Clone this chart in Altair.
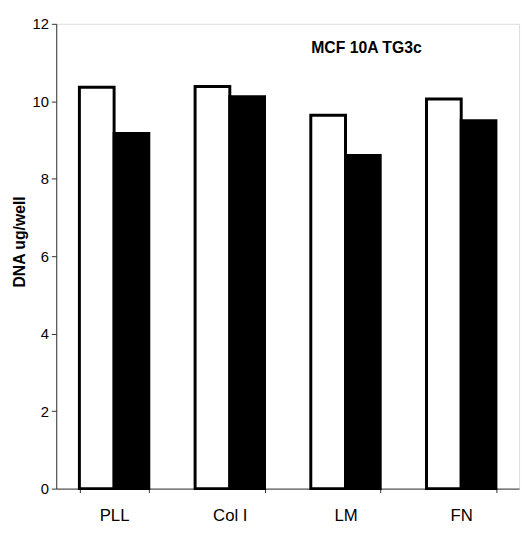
import altair as alt
import pandas as pd

categories = ["PLL", "Col I", "LM", "FN"]
series_names = ["open", "filled"]
open_values = [10.36, 10.38, 9.64, 10.06]
filled_values = [9.17, 10.12, 8.60, 9.50]

rows = []
for c, o, f in zip(categories, open_values, filled_values):
    rows.append({"cat": c, "series": "open", "value": o})
    rows.append({"cat": c, "series": "filled", "value": f})
df = pd.DataFrame(rows)

font = "Liberation Sans"

chart = (
    alt.Chart(df, title=alt.TitleParams(
        "MCF 10A TG3c", font=font, fontSize=16, fontWeight="bold",
        anchor="middle", frame="group", dx=80, dy=44, color="black"))
    .mark_bar(stroke="black", strokeWidth=3)
    .encode(
        x=alt.X("cat:N", sort=categories, title=None,
                scale=alt.Scale(paddingInner=0.4, paddingOuter=0.2),
                axis=alt.Axis(labelAngle=0, tickBand="extent", labelFont=font,
                              labelFontSize=17, labelColor="black", labelPadding=15,
                              tickSize=4, tickColor="#333", domainColor="#333",
                              grid=False)),
        xOffset=alt.XOffset("series:N", sort=series_names),
        y=alt.Y("value:Q", title="DNA ug/well",
                scale=alt.Scale(domain=[0, 12], nice=False),
                axis=alt.Axis(values=[0, 2, 4, 6, 8, 10, 12], format="d",
                              labelFont=font, labelFontSize=15, labelColor="black",
                              labelPadding=3, tickSize=5, tickColor="#333",
                              domainColor="#333", grid=False,
                              titleFont=font, titleFontSize=16, titleFontWeight="bold",
                              titleColor="black", titleX=-37, titleY=221,
                              titleAlign="center", titleBaseline="middle")),
        fill=alt.Fill("series:N", scale=alt.Scale(domain=series_names,
                                                  range=["white", "black"]),
                      legend=None),
    )
    .properties(width=470, height=472,
                autosize=alt.AutoSizeParams(type="none"),
                padding={"left": 49, "top": 12, "right": 4, "bottom": 40})
    .configure_view(stroke=None)
    .configure(background="white")
)

chart.save("out.html", embed_options={"renderer": "svg", "actions": False})
